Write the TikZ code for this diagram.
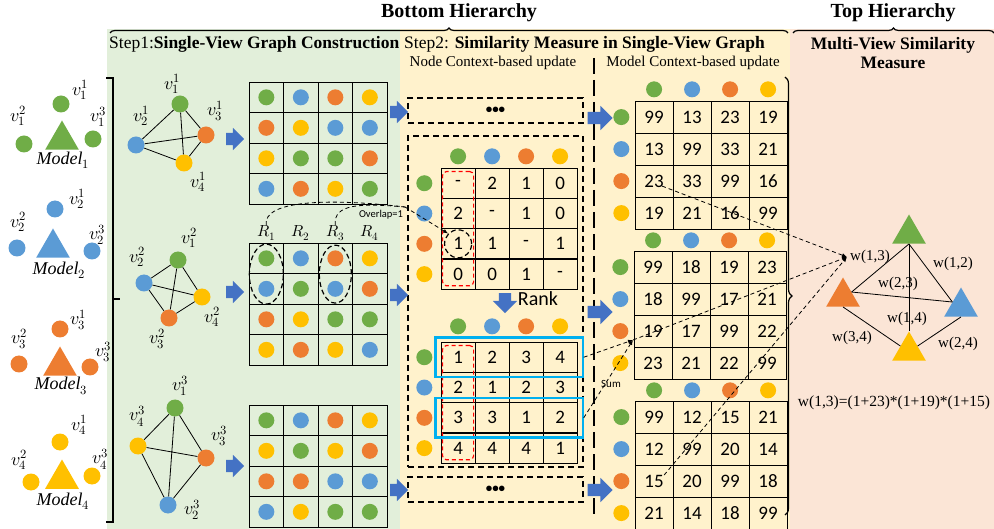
\documentclass[tikz,border=0pt]{standalone}
\usepackage{fontspec}
\usepackage{unicode-math}
\setmainfont{Liberation Serif}
\setmathfont{Latin Modern Math}
\newfontfamily\numfont{Carlito}
\usetikzlibrary{matrix,positioning,fit,calc,shapes.geometric,shapes.arrows,decorations.pathreplacing,arrows.meta}
\definecolor{cG}{HTML}{70AD47}
\definecolor{cB}{HTML}{5B9BD5}
\definecolor{cO}{HTML}{ED7D31}
\definecolor{cY}{HTML}{FFC000}
\definecolor{cA}{HTML}{4472C4}
\definecolor{cC}{HTML}{00B0F0}
\definecolor{bgG}{HTML}{E2EFDA}
\definecolor{bgY}{HTML}{FFF2CC}
\definecolor{bgP}{HTML}{FBE5D6}
\tikzset{
dmat/.style={matrix of nodes,nodes in empty cells,
nodes={draw=black,line width=1.1pt,minimum width=34.5pt,minimum height=30.5pt,inner sep=0pt,anchor=center},
row sep=-1.1pt,column sep=-1.1pt,ampersand replacement=\&,anchor=north west},
nmat/.style={matrix of nodes,nodes in empty cells,
nodes={draw=black,line width=1.1pt,minimum width=34pt,minimum height=30.3pt,inner sep=0pt,anchor=center,font=\numfont\fontsize{19}{19}\selectfont},
row sep=-1.1pt,column sep=-1.1pt,ampersand replacement=\&,anchor=north west},
bmat/.style={matrix of nodes,nodes in empty cells,
nodes={draw=black,line width=1.1pt,minimum width=38pt,minimum height=32pt,inner sep=0pt,anchor=center,font=\numfont\fontsize{19}{19}\selectfont},
row sep=-1.1pt,column sep=-1.1pt,ampersand replacement=\&,anchor=north west},
gc/.style={path picture={\fill[cG] (path picture bounding box.center) circle (8pt);}},
bc/.style={path picture={\fill[cB] (path picture bounding box.center) circle (8pt);}},
oc/.style={path picture={\fill[cO] (path picture bounding box.center) circle (8pt);}},
yc/.style={path picture={\fill[cY] (path picture bounding box.center) circle (8pt);}},
hdot/.style={circle,inner sep=0pt,minimum size=16pt},
vdot/.style={circle,inner sep=0pt,minimum size=17pt},
tri/.style={regular polygon,regular polygon sides=3,inner sep=0pt,minimum size=39pt},
vl/.style={font=\fontsize{18}{18}\selectfont,inner sep=0pt},
rl/.style={font=\fontsize{16}{16}\selectfont,inner sep=0pt},
wl/.style={font=\fontsize{15}{15}\selectfont,inner sep=1pt},
gedge/.style={line width=0.8pt},
flowarrow/.style={single arrow,fill=cA,inner xsep=0pt,inner ysep=6pt,minimum height=18pt,single arrow head extend=5pt,single arrow head indent=0pt},
flowarrowb/.style={flowarrow,minimum height=25pt,single arrow head extend=6pt},
dbox/.style={draw,line width=1.3pt,dash pattern=on 6pt off 4pt,inner sep=0pt},
redbox/.style={draw=red,line width=1.2pt,dash pattern=on 4pt off 3pt,rounded corners=4pt},
cybox/.style={draw=cC,line width=2.2pt},
ovl/.style={ellipse,draw,line width=1.2pt,dash pattern=on 5pt off 3pt,inner sep=0pt},
link/.style={line width=0.8pt,dash pattern=on 4pt off 3pt,-{Latex[length=5pt,width=4pt]}},
hbrace/.style={decorate,decoration={brace,amplitude=5pt},line width=1.2pt},
longdash/.style={line width=2pt,dash pattern=on 16pt off 6pt},
head/.style={font=\fontsize{17.5}{17.5}\selectfont,inner sep=0pt,anchor=west},
sub/.style={font=\fontsize{15}{15}\selectfont,inner sep=0pt},
small/.style={font=\numfont\fontsize{10.5}{10.5}\selectfont,inner sep=0pt},
dots/.style={font=\numfont\bfseries\fontsize{13}{13}\selectfont}
}
\begin{document}
\begin{tikzpicture}[x=1pt,y=-1pt]
\useasboundingbox (0,0) rectangle (994,529);
\fill[bgG] (107,29) rectangle (400,529);
\fill[bgY] (400,29) rectangle (790,529);
\fill[bgP] (790,29) rectangle (994,529);

\node[font=\bfseries\fontsize{20}{20}\selectfont] (bh) at (459,13) {Bottom Hierarchy};
\node[font=\bfseries\fontsize{20}{20}\selectfont] (th) at (893,13) {Top Hierarchy};
\draw[hbrace] (110,33) -- (788,33);
\draw[hbrace] (793,33) -- (994,33);
\node[head] (s1) at (109,44) {Step1:\textbf{Single-View Graph Construction}};
\node[head] (s2) at (404,44) {Step2: \textbf{Similarity Measure in Single-View Graph}};
\node[sub] (nc) at (493,63) {Node Context-based update};
\node[sub] (mc) at (693,63) {Model Context-based update};
\node[font=\bfseries\fontsize{17.5}{19}\selectfont,align=center] (mv) at (893,53) {Multi-View Similarity\\Measure};
\draw[longdash] (594,58) -- (594,518);
\draw[line width=2pt] (106,78) -- (113,78) -- (113,522) -- (106,522) (113,299) -- (120,299);
\draw[hbrace,decoration={brace,amplitude=7pt}] (785,77) -- (785,515);

\node[tri,fill=cG] (M1) at (62,140) {};
\node[vdot,fill=cG] (M1a) at (61,104) {};
\node[vdot,fill=cG] (M1b) at (24,144) {};
\node[vdot,fill=cG] (M1c) at (93,139) {};
\node[vl] (M1la) at (80,90) {$v_1^1$};
\node[vl] (M1lb) at (18,116) {$v_1^2$};
\node[vl] (M1lc) at (98,117) {$v_1^3$};
\node[vl] (M1t) at (63,160) {$\mathit{Model}_1$};
\node[tri,fill=cB] (M2) at (53,248) {};
\node[vdot,fill=cB] (M2a) at (55,209) {};
\node[vdot,fill=cB] (M2b) at (17,248) {};
\node[vdot,fill=cB] (M2c) at (92,251) {};
\node[vl] (M2la) at (77,199) {$v_2^1$};
\node[vl] (M2lb) at (18,222) {$v_2^2$};
\node[vl] (M2lc) at (97,235) {$v_2^3$};
\node[vl] (M2t) at (59,270) {$\mathit{Model}_2$};
\node[tri,fill=cO] (M3) at (60,366) {};
\node[vdot,fill=cO] (M3a) at (60,329) {};
\node[vdot,fill=cO] (M3b) at (19,364) {};
\node[vdot,fill=cO] (M3c) at (90,367) {};
\node[vl] (M3la) at (78,320) {$v_3^1$};
\node[vl] (M3lb) at (19,339) {$v_3^2$};
\node[vl] (M3lc) at (103,352) {$v_3^3$};
\node[vl] (M3t) at (61,386) {$\mathit{Model}_3$};
\node[tri,fill=cY] (M4) at (62,479) {};
\node[vdot,fill=cY] (M4a) at (60,442) {};
\node[vdot,fill=cY] (M4b) at (31,482) {};
\node[vdot,fill=cY] (M4c) at (92,476) {};
\node[vl] (M4la) at (79,425) {$v_4^1$};
\node[vl] (M4lb) at (19,460) {$v_4^2$};
\node[vl] (M4lc) at (100,459) {$v_4^3$};
\node[vl] (M4t) at (63,501) {$\mathit{Model}_4$};

\node[vdot,fill=cG] (p11) at (180,104) {};
\node[vdot,fill=cB] (p12) at (136,145) {};
\node[vdot,fill=cO] (p13) at (206,135) {};
\node[vdot,fill=cY] (p14) at (184,163) {};
\draw[gedge] (p12) -- (p11) -- (p13) -- (p14) -- (p12) -- (p13) (p11) -- (p14);
\node[vl] (q11) at (172,84) {$v_1^1$};
\node[vl] (q12) at (141,116) {$v_2^1$};
\node[vl] (q13) at (215,111) {$v_3^1$};
\node[vl] (q14) at (198,182) {$v_4^1$};
\node[vdot,fill=cG] (p21) at (178,260) {};
\node[vdot,fill=cB] (p22) at (144,283) {};
\node[vdot,fill=cO] (p23) at (169,318) {};
\node[vdot,fill=cY] (p24) at (202,297) {};
\draw[gedge] (p22) -- (p21) -- (p24) -- (p23) -- (p22) -- (p24) (p21) -- (p23);
\node[vl] (q21) at (189,238) {$v_1^2$};
\node[vl] (q22) at (137,257) {$v_2^2$};
\node[vl] (q23) at (157,339) {$v_3^2$};
\node[vl] (q24) at (212,317) {$v_4^2$};
\node[vdot,fill=cG] (p31) at (175,408) {};
\node[vdot,fill=cB] (p32) at (168,505) {};
\node[vdot,fill=cO] (p33) at (206,458) {};
\node[vdot,fill=cY] (p34) at (138,446) {};
\draw[gedge] (p34) -- (p31) -- (p33) -- (p32) -- (p34) -- (p33) (p31) -- (p32);
\node[vl] (q31) at (180,386) {$v_1^3$};
\node[vl] (q32) at (192,510) {$v_2^3$};
\node[vl] (q33) at (219,436) {$v_3^3$};
\node[vl] (q34) at (137,416) {$v_4^3$};

\matrix[dmat] (gA) at (245,78) {
|[gc]| \& |[bc]| \& |[oc]| \& |[yc]| \\
|[oc]| \& |[yc]| \& |[bc]| \& |[bc]| \\
|[yc]| \& |[gc]| \& |[gc]| \& |[oc]| \\
|[bc]| \& |[oc]| \& |[yc]| \& |[gc]| \\
};
\matrix[dmat] (gB) at (245,239) {
|[gc]| \& |[bc]| \& |[oc]| \& |[yc]| \\
|[bc]| \& |[gc]| \& |[bc]| \& |[oc]| \\
|[oc]| \& |[yc]| \& |[gc]| \& |[gc]| \\
|[yc]| \& |[oc]| \& |[yc]| \& |[bc]| \\
};
\matrix[dmat] (gC) at (245,401) {
|[gc]| \& |[bc]| \& |[oc]| \& |[yc]| \\
|[yc]| \& |[gc]| \& |[yc]| \& |[oc]| \\
|[oc]| \& |[oc]| \& |[bc]| \& |[bc]| \\
|[bc]| \& |[yc]| \& |[gc]| \& |[gc]| \\
};
\foreach \i in {1,...,4}
  \node[rl,above=2pt of gB-1-\i] (r\i) {$R_\i$};
\node[ovl,minimum width=34pt,minimum height=60pt] (e1) at (gB-1-1.south) {};
\node[ovl,minimum width=32pt,minimum height=58pt] (e3) at (gB-1-3.south) {};

\node[dbox,dots,minimum width=175pt,minimum height=25pt] (topbox) at (495.5,110.5) {\textbullet\textbullet\textbullet};
\node[dbox,minimum width=175pt,minimum height=331pt] (bigbox) at (495.5,301.5) {};
\node[dbox,dots,minimum width=175pt,minimum height=25pt] (botbox) at (495.5,489.5) {\textbullet\textbullet\textbullet};

\matrix[nmat] (nA) at (437,164) {
- \& 2 \& 1 \& 0 \\
2 \& - \& 1 \& 0 \\
1 \& 1 \& - \& 1 \\
0 \& 0 \& 1 \& - \\
};
\matrix[nmat] (nB) at (437,338) {
1 \& 2 \& 3 \& 4 \\
2 \& 1 \& 2 \& 3 \\
3 \& 3 \& 1 \& 2 \\
4 \& 4 \& 4 \& 1 \\
};
\matrix[bmat] (mA) at (631,97) {
99 \& 13 \& 23 \& 19 \\
13 \& 99 \& 33 \& 21 \\
23 \& 33 \& 99 \& 16 \\
19 \& 21 \& 16 \& 99 \\
};
\matrix[bmat] (mB) at (630,247) {
99 \& 18 \& 19 \& 23 \\
18 \& 99 \& 17 \& 21 \\
19 \& 17 \& 99 \& 22 \\
23 \& 21 \& 22 \& 99 \\
};
\matrix[bmat] (mC) at (631,397) {
99 \& 12 \& 15 \& 21 \\
12 \& 99 \& 20 \& 14 \\
15 \& 20 \& 99 \& 18 \\
21 \& 14 \& 18 \& 99 \\
};
\foreach \m/\t/\l in {nA/3pt/8pt,nB/7pt/8pt,mA/3pt/5pt,mB/2pt/5pt,mC/2pt/5pt}
  \foreach \c [count=\i] in {cG,cB,cO,cY}{
    \node[hdot,fill=\c,above=\t of \m-1-\i] (\m-h\i) {};
    \node[hdot,fill=\c,left=\l of \m-\i-1] (\m-r\i) {};
  }
\node[redbox,fit=(nA-1-1)(nA-4-1),inner xsep=-2pt,inner ysep=-4pt] (rA) {};
\node[redbox,fit=(nB-1-1)(nB-4-1),inner xsep=-2pt,inner ysep=-4pt] (rB) {};
\node[ovl,minimum width=27pt,minimum height=28pt] (cA) at (nA-3-1) {};
\node[cybox,fit=(nB-1-1)(nB-1-4),inner xsep=5pt,inner ysep=4pt] (cy1) {};
\node[cybox,fit=(nB-3-1)(nB-3-4),inner xsep=5pt,inner ysep=4pt] (cy3) {};

\node[flowarrow] (a1) at (232,139) {};
\node[flowarrow] (a2) at (232,292) {};
\node[flowarrow] (a3) at (232,466) {};
\node[flowarrow] (a4) at (396,112) {};
\node[flowarrow] (a5) at (396,295) {};
\node[flowarrow] (a6) at (396,490) {};
\node[flowarrowb] (a7) at (597,118) {};
\node[flowarrowb] (a8) at (597,312) {};
\node[flowarrowb] (a9) at (597,490) {};
\node[flowarrow,shape border rotate=270,inner xsep=6pt,inner ysep=0pt,minimum height=20pt,single arrow head extend=6pt] (rk) at (505,300) {};
\node[font=\numfont\fontsize{20}{20}\selectfont,inner sep=0pt] (rktxt) at (538,299) {Rank};

\coordinate (ovj) at (405,207);
\draw[line width=0.8pt,dash pattern=on 4pt off 3pt] (r1.north) .. controls (262,200) and (330,198) .. (ovj);
\draw[line width=0.8pt,dash pattern=on 4pt off 3pt] (r3.north) .. controls (333,204) and (360,203) .. (ovj);
\draw[link] (ovj) -- (cA.north west);
\node[small] (ovtxt) at (381,215) {Overlap=1};

\coordinate (sumpt) at (633,340);
\coordinate (wj) at (847,257);
\draw[link] (cy1.east) -- (sumpt);
\draw[link] (cy3.east) -- (sumpt);
\node[small,font=\numfont\fontsize{11}{11}\selectfont] (sumtxt) at (611,384) {Sum};
\draw[link] ($(mA-3-1.center)+(8,5)$) -- (wj);
\draw[link] (sumpt) -- (wj);
\draw[link] ($(mC-3-1.center)+(10,-6)$) -- (wj);

\node[tri,fill=cG] (tG) at (909,234) {};
\node[tri,fill=cO] (tO) at (843,297) {};
\node[tri,fill=cB] (tB) at (961,307) {};
\node[tri,fill=cY] (tY) at (909,351) {};
\draw[gedge] (tG.side 2) -- (tY.corner 1);
\draw[gedge] (tG.side 2) -- (tO.side 3);
\draw[gedge] (tG.side 2) -- (tB.side 1);
\draw[gedge] (tO.side 3) -- (tB.side 1);
\draw[gedge] (tO.side 2) -- (tY.side 1);
\draw[gedge] (tB.side 2) -- (tY.side 3);
\node[wl] (w13) at (870,257) {w(1,3)};
\node[wl] (w12) at (953,264) {w(1,2)};
\node[wl] (w23) at (898,284) {w(2,3)};
\node[wl] (w14) at (907,319) {w(1,4)};
\node[wl] (w34) at (852,338) {w(3,4)};
\node[wl] (w24) at (958,344) {w(2,4)};
\node[font=\fontsize{15.5}{15.5}\selectfont] (wf) at (894,403) {w(1,3)=(1+23)*(1+19)*(1+15)};
\end{tikzpicture}
\end{document}
